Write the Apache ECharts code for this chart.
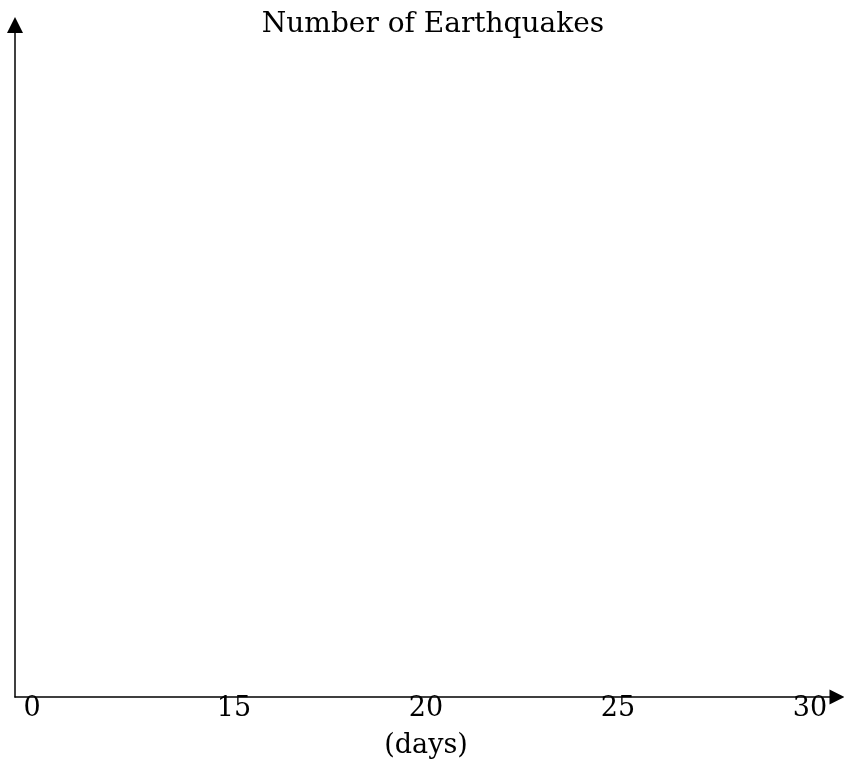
<!DOCTYPE html>
<html>
<head>
<meta charset="utf-8">
<script src="https://cdn.jsdelivr.net/npm/echarts@6/dist/echarts.min.js"></script>
<style>
html,body{margin:0;padding:0;background:#fff;}
#chart{width:844px;height:764px;}
</style>
</head>
<body>
<div id="chart"></div>
<script>
// Data
var categories = ['0', '15', '20', '25', '30'];
var earthquakeCounts = []; // the reference shows empty axes (no values plotted)
var titleText = 'Number of Earthquakes';
var xAxisName = '(days)';

var FONT = 'DejaVu Serif';
var chart = echarts.init(document.getElementById('chart'));
var firstLabel = { value: categories[0], textStyle: { padding: [0, 20, 0, 0] } };
var catData = [firstLabel].concat(categories.slice(1));

chart.setOption({
  backgroundColor: '#ffffff',
  animation: false,
  title: {
    text: titleText,
    left: 428,
    textAlign: 'center',
    top: 6,
    textStyle: { fontFamily: FONT, fontSize: 28, fontWeight: 'normal', color: '#000' }
  },
  grid: [
    { left: 15, right: 7, top: 25, bottom: 67 },
    { left: 42, right: 34, top: 25, bottom: 67 }
  ],
  xAxis: [
    {
      type: 'value', gridIndex: 0, min: 0, max: 1,
      axisLine: { show: true, onZero: false, symbol: ['none', 'triangle'], symbolSize: [15, 15],
                  lineStyle: { color: '#000', width: 1.5 } },
      axisTick: { show: false }, axisLabel: { show: false }, splitLine: { show: false }
    },
    {
      type: 'category', gridIndex: 1, data: catData, boundaryGap: false,
      axisLine: { show: false }, axisTick: { show: false }, splitLine: { show: false },
      axisLabel: { fontFamily: FONT, fontSize: 27, color: '#000', margin: 9 },
      name: xAxisName, nameLocation: 'middle', nameGap: 46,
      nameTextStyle: { fontFamily: FONT, fontSize: 27, color: '#000' }
    }
  ],
  yAxis: [
    {
      type: 'value', gridIndex: 0, min: 0, max: 1,
      axisLine: { show: true, onZero: false, symbol: ['none', 'triangle'], symbolSize: [16, 16],
                  lineStyle: { color: '#000', width: 1.5 } },
      axisTick: { show: false }, axisLabel: { show: false }, splitLine: { show: false }
    },
    { type: 'value', gridIndex: 1, show: false, min: 0, max: 1 }
  ],
  series: [
    { type: 'line', xAxisIndex: 1, yAxisIndex: 1, data: earthquakeCounts, showSymbol: false }
  ]
});
</script>
</body>
</html>
